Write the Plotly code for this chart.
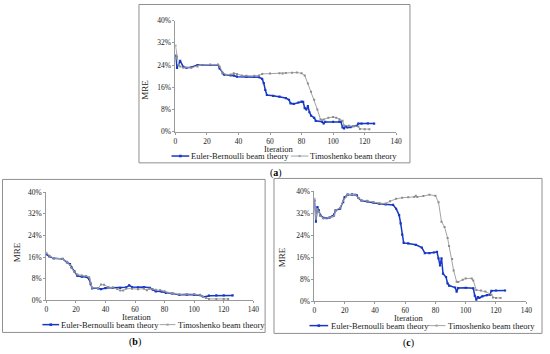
import plotly.graph_objects as go

W, H = 550, 354

# ---------------- data (iteration, MRE %) ----------------
a_eb_x = [0,1,3,5,7,10,14,17,22,27,28,30,31,35,37,39,45,50,53,55,56,57,58,62,66,70,72,73,75,78,80,81,82,83,84,85,86,88,89,93,94,95,100,104,105,106,107,108,109,111,113,115,116,118,122,126]
a_eb_y = [27.5,23,25.5,23.3,23,23.2,24,24,24,24,22.8,21,20.5,20.3,20.2,19.8,19.7,19.7,19.6,19,17.5,15,13.2,12.9,12.6,12.1,11.5,10.2,10,10.5,10.8,10.7,8.5,8,9.2,7,5.8,5,3.9,3.6,3,3.5,3.5,3.6,3.5,1.5,1.2,2,1.5,1.6,2,2.1,2.9,2.9,3,2.9]
a_tb_x = [0,1,2,3,5,10,14,16,22,27,28,30,32,35,37,39,42,45,50,53,55,60,66,68,70,74,77,80,82,84,86,88,90,92,94,97,100,102,104,106,107,110,113,116,117,120,123]
a_tb_y = [31,27,24,23.5,23,23,23.5,24,24.2,24.2,23.5,21.2,20.5,20.6,21,20.8,20.2,20.1,20.1,20.2,20.8,20.9,21,20.9,21.1,21.2,21.3,21,20.2,17.3,14.4,11.5,8,4.4,4.4,5,5.3,5,4.5,3.9,2.2,2.1,2,1.9,1,0.9,0.9]

b_eb_x = [0,2,5,11,14,16,17,19,21,24,27,29,30,31,35,37,40,45,50,54,56,58,62,66,70,72,74,78,81,85,90,95,100,104,106,108,110,115,120,126]
b_eb_y = [17,16.2,15.5,15.3,14,13.4,12.2,10.7,9,8.7,8.6,7.8,6,4.4,4.4,4.1,4.5,4.6,4.6,4.8,5.5,4.9,4.8,4.9,4.6,3.9,3.3,3.2,2.7,2.5,2.0,2.1,2.1,1.9,1.3,1.3,1.7,1.8,1.8,1.8]
b_tb_x = [0,2,5,11,14,16,17,19,21,24,27,29,30,31,35,37,39,42,45,48,50,52,54,58,62,66,68,70,74,77,80,82,86,90,95,100,104,106,108,110,115,120,123]
b_tb_y = [17.6,16.5,15.6,15.3,14.2,13,12,10.5,9.5,9.2,9,8.5,6.5,4.6,4.5,5.8,5.7,4.9,4.7,4.2,3.6,3.6,4.3,4.3,4.1,4.3,3.7,4.3,3.9,3.8,3.3,2.8,2.6,2.2,2.3,2.3,2.0,1.2,0.8,0.5,0.5,0.5,0.5]

c_eb_x = [0,1,2,3,4,6,8,10,12,13,14,17,19,20,22,25,28,29,31,35,39,43,47,52,54,56,57,58,59,62,67,71,73,76,79,81,82,83,84,85,87,88,89,93,94,95,100,105,106,107,108,109,111,114,116,117,120,126]
c_eb_y = [36.6,28.9,34.2,33,31.2,30.3,30.2,30.4,30.9,31.5,33,33.6,36,37.8,38.7,38.8,38.5,37.5,36.6,36.3,35.8,35.4,35.2,35,33.6,31.3,28.3,24.2,21.2,21,20.5,19.5,17.5,17.5,17.7,17.9,15.6,13,15.6,10,8.8,6.5,5.7,5,3.5,4.8,4.9,4.7,2,0.6,1.5,1.2,1.8,2.2,2.4,3.8,3.9,3.9]
c_tb_x = [0,1,2,3,4,6,10,13,14,17,19,21,22,27,29,31,35,39,43,47,50,54,58,62,66,67,68,72,76,80,82,84,86,88,89,91,92,94,95,98,100,104,105,107,110,113,117,118,120,123]
c_tb_y = [37.2,30,33.5,32.5,31,30.1,30.4,31,33,34,36.5,38,38.8,38.8,37.5,36.8,36.5,36,35.6,35.5,36.3,37.2,37.6,37.8,37.9,38.3,37.9,38.2,38.7,38.3,36,28.9,27,23,20.1,15.3,11.2,7.1,7,7.8,8.3,8.3,7.5,4.1,3.9,3.5,2.4,1.4,1.2,1.2]

series_names = ["Euler-Bernoulli beam theory", "Timoshenko beam theory"]
x_ticks = [0, 20, 40, 60, 80, 100, 120, 140]
y_ticks = [0, 8, 16, 24, 32, 40]
y_tick_text = ["0%", "8%", "16%", "24%", "32%", "40%"]

BLUE = "#1638C4"
GRAY = "#A3A3A3"
AXC = "#9A9A9A"
FONT = "Liberation Serif"
TXT = "#1a1a1a"


def px(x):
    return x / W


def py(y):
    return 1 - y / H


fig = go.Figure()

panels = [
    dict(k="", eb=(a_eb_x, a_eb_y), tb=(a_tb_x, a_tb_y), box=(176, 400, 17, 131),
         frame=(139, 0.5, 414, 163), lab="(<b>a</b>)", labpos=(278, 173),
         legy=156, leg=(172, 190, 191, 293, 311, 312), mre=(145, 88), it=(281, 148.5)),
    dict(k="2", eb=(b_eb_x, b_eb_y), tb=(b_tb_x, b_tb_y), box=(45, 255, 193, 304),
         frame=(0.5, 180, 267, 337), lab="(<b>b</b>)", labpos=(135, 347),
         legy=329, leg=(41, 58, 59, 160, 176, 178), mre=(15, 255), it=(137, 321.5)),
    dict(k="3", eb=(c_eb_x, c_eb_y), tb=(c_tb_x, c_tb_y), box=(317, 532, 192, 305),
         frame=(276, 179, 548, 338), lab="(<b>c</b>)", labpos=(413, 348),
         legy=330, leg=(312, 331, 333, 432, 450, 452), mre=(285, 260), it=(413, 322)),
]

shapes = []
annotations = []

for p in panels:
    k = p["k"]
    xa, ya = "x" + k, "y" + k
    fig.add_trace(go.Scatter(x=p["eb"][0], y=p["eb"][1], mode="lines+markers", name=series_names[0],
                             line=dict(color=BLUE, width=1.5), marker=dict(symbol="square", size=2.2, color=BLUE),
                             xaxis=xa, yaxis=ya, showlegend=False))
    fig.add_trace(go.Scatter(x=p["tb"][0], y=p["tb"][1], mode="lines+markers", name=series_names[1],
                             line=dict(color=GRAY, width=1), marker=dict(symbol="square", size=2, color="#8c8c8c"),
                             xaxis=xa, yaxis=ya, showlegend=False))
    x0, x1, yt, yb = p["box"]
    axis_common = dict(showline=True, linecolor=AXC, linewidth=1, ticks="outside", ticklen=2,
                       tickcolor=AXC, showgrid=False, zeroline=False,
                       tickfont=dict(family=FONT, size=7.5, color=TXT))
    fig.update_layout(**{
        "xaxis" + k: dict(domain=[px(x0), px(x1)], range=[0, 140], tickmode="array", tickvals=x_ticks,
                          ticktext=[str(v) for v in x_ticks], anchor=ya, **axis_common),
        "yaxis" + k: dict(domain=[py(yb), py(yt)], range=[0, 40], tickmode="array", tickvals=y_ticks,
                          ticktext=y_tick_text, anchor=xa, **axis_common),
    })
    fx0, fy0, fx1, fy1 = p["frame"]
    shapes.append(dict(type="rect", xref="paper", yref="paper", x0=px(fx0), x1=px(fx1), y0=py(fy1), y1=py(fy0),
                       line=dict(color="#8f8f8f", width=1)))
    ly = p["legy"]
    s1a, s1b, t1, s2a, s2b, t2 = p["leg"]
    for (sa, sb, tx, col, name, lw, ms) in [(s1a, s1b, t1, BLUE, series_names[0], 1.5, 1.3),
                                            (s2a, s2b, t2, GRAY, series_names[1], 1, 1.1)]:
        shapes.append(dict(type="line", xref="paper", yref="paper", x0=px(sa), x1=px(sb), y0=py(ly), y1=py(ly),
                           line=dict(color=col, width=lw)))
        cx = (sa + sb) / 2
        shapes.append(dict(type="rect", xref="paper", yref="paper", x0=px(cx - ms), x1=px(cx + ms),
                           y0=py(ly + ms), y1=py(ly - ms), fillcolor=col, line=dict(width=0)))
        annotations.append(dict(text=name, xref="paper", yref="paper", x=px(tx), y=py(ly), xanchor="left",
                                yanchor="middle", showarrow=False, borderpad=0,
                                font=dict(family=FONT, size=8.5, color=TXT)))
    annotations.append(dict(text="MRE", xref="paper", yref="paper", x=px(p["mre"][0]), y=py(p["mre"][1]),
                            textangle=-90, showarrow=False, xanchor="center", yanchor="middle", borderpad=0,
                            font=dict(family=FONT, size=9, color=TXT)))
    annotations.append(dict(text="Iteration", xref="paper", yref="paper", x=px(p["it"][0]), y=py(p["it"][1]),
                            showarrow=False, xanchor="center", yanchor="middle", borderpad=0,
                            font=dict(family=FONT, size=8.5, color=TXT)))
    annotations.append(dict(text=p["lab"], xref="paper", yref="paper", x=px(p["labpos"][0]), y=py(p["labpos"][1]),
                            showarrow=False, xanchor="center", yanchor="middle", borderpad=0,
                            font=dict(family=FONT, size=10, color="#000")))

fig.update_layout(width=W, height=H, margin=dict(l=0, r=0, t=0, b=0), paper_bgcolor="white",
                  plot_bgcolor="rgba(0,0,0,0)", shapes=shapes, annotations=annotations, showlegend=False)

fig.write_html("out.html", config={"displayModeBar": False},
               post_script="document.body.style.margin='0';document.body.style.padding='0';")
